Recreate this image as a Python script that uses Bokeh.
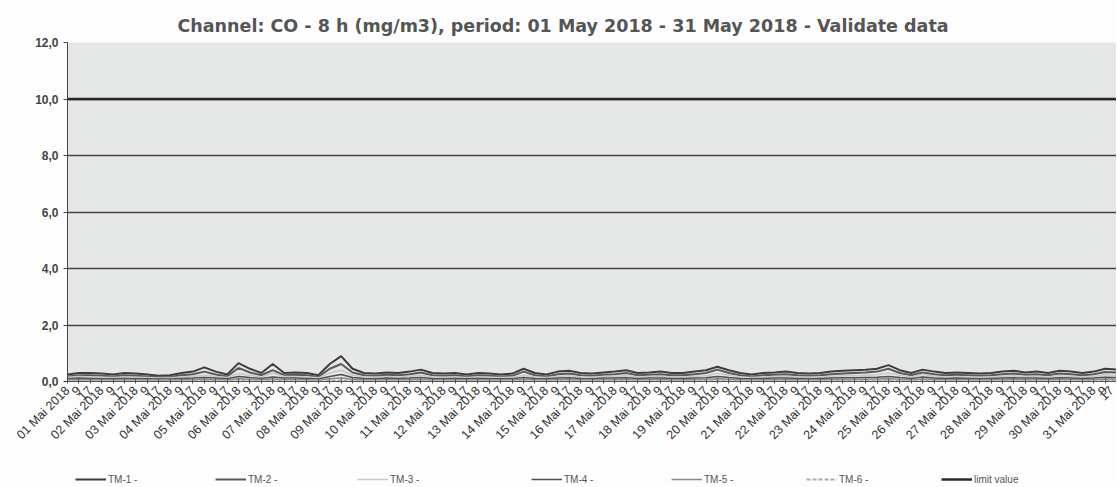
from bokeh.plotting import figure
from bokeh.models import FixedTicker, Legend, LegendItem, Range1d
from bokeh.layouts import column
from bokeh.embed import file_html
from bokeh.resources import INLINE

# ---- data (8-hourly, 01 May 2018 01h .. 31 May 2018 17h) ----
days = [f"{d:02d} Mai 2018" for d in range(1, 32)]
hour_labels = ["9", "17"]
tick_labels = []
for d in days:
    tick_labels += [d] + hour_labels

tm1 = [0.25, 0.30, 0.30, 0.28, 0.25, 0.30, 0.28, 0.25, 0.20, 0.22, 0.30, 0.35,
       0.50, 0.35, 0.25, 0.65, 0.45, 0.30, 0.62, 0.30, 0.32, 0.30, 0.22, 0.62,
       0.90, 0.45, 0.30, 0.28, 0.32, 0.30, 0.35, 0.42, 0.30, 0.28, 0.30, 0.25,
       0.30, 0.28, 0.25, 0.28, 0.45, 0.30, 0.25, 0.35, 0.38, 0.30, 0.28, 0.32,
       0.35, 0.40, 0.30, 0.32, 0.35, 0.30, 0.30, 0.35, 0.40, 0.52, 0.40, 0.30,
       0.25, 0.30, 0.32, 0.35, 0.30, 0.28, 0.30, 0.35, 0.38, 0.40, 0.42, 0.45,
       0.58, 0.40, 0.30, 0.42, 0.35, 0.30, 0.32, 0.30, 0.28, 0.30, 0.35, 0.38,
       0.32, 0.35, 0.30, 0.38, 0.35, 0.30, 0.35, 0.45, 0.42]
tm2 = [0.18, 0.22, 0.22, 0.20, 0.18, 0.22, 0.20, 0.18, 0.15, 0.16, 0.22, 0.26,
       0.35, 0.25, 0.18, 0.48, 0.32, 0.22, 0.40, 0.22, 0.24, 0.22, 0.16, 0.45,
       0.62, 0.32, 0.22, 0.20, 0.24, 0.22, 0.26, 0.32, 0.22, 0.20, 0.22, 0.18,
       0.22, 0.20, 0.18, 0.20, 0.35, 0.22, 0.18, 0.26, 0.28, 0.22, 0.20, 0.24,
       0.26, 0.30, 0.22, 0.24, 0.26, 0.22, 0.22, 0.26, 0.30, 0.42, 0.30, 0.22,
       0.18, 0.22, 0.24, 0.26, 0.22, 0.20, 0.22, 0.26, 0.28, 0.30, 0.32, 0.35,
       0.45, 0.30, 0.22, 0.32, 0.26, 0.22, 0.24, 0.22, 0.20, 0.22, 0.26, 0.28,
       0.24, 0.26, 0.22, 0.28, 0.26, 0.22, 0.26, 0.34, 0.32]
tm3 = [0.15, 0.18, 0.16, 0.15, 0.14, 0.16, 0.15, 0.14, 0.12, 0.13, 0.16, 0.18,
       0.22, 0.18, 0.14, 0.28, 0.22, 0.16, 0.30, 0.18, 0.18, 0.16, 0.13, 0.30,
       0.40, 0.22, 0.16, 0.15, 0.18, 0.16, 0.18, 0.22, 0.16, 0.15, 0.16, 0.14,
       0.16, 0.15, 0.14, 0.15, 0.22, 0.16, 0.14, 0.18, 0.20, 0.16, 0.15, 0.18,
       0.18, 0.20, 0.16, 0.18, 0.18, 0.16, 0.16, 0.18, 0.20, 0.28, 0.22, 0.16,
       0.14, 0.16, 0.18, 0.18, 0.16, 0.15, 0.16, 0.18, 0.20, 0.20, 0.22, 0.24,
       0.30, 0.22, 0.16, 0.26, 0.18, 0.16, 0.18, 0.16, 0.15, 0.16, 0.18, 0.20,
       0.18, 0.18, 0.16, 0.20, 0.18, 0.16, 0.18, 0.24, 0.22]
tm4 = [0.10, 0.12, 0.11, 0.10, 0.10, 0.11, 0.10, 0.10, 0.09, 0.09, 0.11, 0.12,
       0.14, 0.12, 0.10, 0.18, 0.14, 0.11, 0.16, 0.12, 0.12, 0.11, 0.09, 0.18,
       0.25, 0.14, 0.11, 0.10, 0.12, 0.11, 0.12, 0.14, 0.11, 0.10, 0.11, 0.10,
       0.11, 0.10, 0.10, 0.10, 0.14, 0.11, 0.10, 0.12, 0.13, 0.11, 0.10, 0.12,
       0.12, 0.13, 0.11, 0.12, 0.12, 0.11, 0.11, 0.12, 0.13, 0.18, 0.14, 0.11,
       0.10, 0.11, 0.12, 0.12, 0.11, 0.10, 0.11, 0.12, 0.13, 0.13, 0.14, 0.15,
       0.18, 0.14, 0.11, 0.16, 0.12, 0.11, 0.12, 0.11, 0.10, 0.11, 0.12, 0.13,
       0.12, 0.12, 0.11, 0.13, 0.12, 0.11, 0.12, 0.15, 0.14]
tm5 = [0.06, 0.07, 0.06, 0.06, 0.06, 0.07, 0.06, 0.06, 0.05, 0.05, 0.06, 0.07,
       0.08, 0.07, 0.06, 0.10, 0.08, 0.06, 0.09, 0.07, 0.07, 0.06, 0.05, 0.10,
       0.12, 0.08, 0.06, 0.06, 0.07, 0.06, 0.07, 0.08, 0.06, 0.06, 0.06, 0.06,
       0.06, 0.06, 0.06, 0.06, 0.08, 0.06, 0.06, 0.07, 0.07, 0.06, 0.06, 0.07,
       0.07, 0.08, 0.06, 0.07, 0.07, 0.06, 0.06, 0.07, 0.08, 0.10, 0.08, 0.06,
       0.06, 0.06, 0.07, 0.07, 0.06, 0.06, 0.06, 0.07, 0.07, 0.08, 0.08, 0.09,
       0.10, 0.08, 0.06, 0.09, 0.07, 0.06, 0.07, 0.06, 0.06, 0.06, 0.07, 0.07,
       0.07, 0.07, 0.06, 0.07, 0.07, 0.06, 0.07, 0.09, 0.08]
tm6 = [0.03] * 93
limit_value = [10.0] * 93

series_names = ["TM-1 -", "TM-2 -", "TM-3 -", "TM-4 -", "TM-5 -", "TM-6 -", "limit value"]
series_values = [tm1, tm2, tm3, tm4, tm5, tm6, limit_value]

# ---- styles ----
colors = ["#3d3d3d", "#5a5a5a", "#c8c8c8", "#505050", "#8a8a8a", "#acacac", "#2a2a2a"]
widths = [2.0, 2.0, 1.5, 1.5, 1.5, 2.0, 2.5]
dashes = ["solid", "solid", "solid", "solid", "solid", "4 2", "solid"]
legend_x = [8, 148, 290, 464, 604, 739, 874]   # px from the (aligned) frame's left edge

x = list(range(len(tick_labels)))
W = 1116

p = figure(width=W, height=457, output_backend="svg", toolbar_location=None,
           x_range=Range1d(0, 92), y_range=Range1d(0, 12),
           min_border_left=67, min_border_right=0, min_border_top=42,
           min_border_bottom=76)
p.background_fill_color = "#e6e8e8"
p.border_fill_color = "#fdfdfd"
p.outline_line_color = None

p.title.text = "Channel: CO - 8 h (mg/m3), period: 01 May 2018 - 31 May 2018 - Validate data"
p.title.text_font = "DejaVu Sans"
p.title.text_font_size = "17.5px"
p.title.text_font_style = "bold"
p.title.text_color = "#555555"
p.title.align = "left"
p.title.offset = 110
p.title.standoff = 14

# y axis
p.yaxis.ticker = FixedTicker(ticks=[0, 2, 4, 6, 8, 10, 12])
p.yaxis.major_label_overrides = {v: f"{v},0" for v in range(0, 13, 2)}
p.yaxis.major_label_text_font = "Liberation Sans"
p.yaxis.major_label_text_font_size = "12px"
p.yaxis.major_label_text_font_style = "bold"
p.yaxis.major_label_text_color = "#444444"
p.yaxis.axis_line_color = "#444444"
p.yaxis.major_tick_line_color = "#444444"
p.yaxis.major_tick_out = 4
p.yaxis.major_tick_in = 0
p.yaxis.minor_tick_line_color = None
p.ygrid.grid_line_color = "#444444"
p.ygrid.grid_line_width = 1.5
p.xgrid.grid_line_color = None

# x axis
p.xaxis.ticker = FixedTicker(ticks=x)
p.xaxis.major_label_overrides = {i: t for i, t in enumerate(tick_labels)}
p.xaxis.major_label_orientation = 0.785
p.xaxis.major_label_text_font = "Liberation Sans"
p.xaxis.major_label_text_font_size = "12.5px"
p.xaxis.major_label_text_color = "#333333"
p.xaxis.axis_line_color = "#555555"
p.xaxis.major_tick_line_color = "#555555"
p.xaxis.major_tick_in = 3
p.xaxis.major_tick_out = 2
p.xaxis.minor_tick_line_color = None

for ys, col, w, dash in zip(series_values, colors, widths, dashes):
    p.line(x, ys, line_color=col, line_width=w, line_dash=dash)

# ---- legend strip ----
lf = figure(width=W, height=29, output_backend="svg", toolbar_location=None,
            x_range=Range1d(0, 1), y_range=Range1d(0, 1),
            x_axis_location=None, y_axis_location=None,
            min_border_left=67, min_border_right=0, min_border_top=0, min_border_bottom=0)
lf.grid.visible = False
lf.outline_line_color = None
lf.background_fill_color = "#fdfdfd"
lf.border_fill_color = "#fdfdfd"

for name, col, w, dash, lx in zip(series_names, colors, widths, dashes, legend_x):
    r = lf.line([-5, -4], [-5, -4], line_color=col, line_width=w, line_dash=dash)
    lg = Legend(items=[LegendItem(label=name, renderers=[r])], location=(lx, 0),
                glyph_width=31, glyph_height=14, padding=2, margin=0, spacing=0,
                label_text_font="Liberation Sans", label_text_font_size="10px",
                label_text_color="#555555", border_line_color=None,
                background_fill_alpha=0, label_standoff=2)
    lf.add_layout(lg, "center")

open("out.html", "w").write(file_html(column(p, lf, spacing=0), INLINE))
